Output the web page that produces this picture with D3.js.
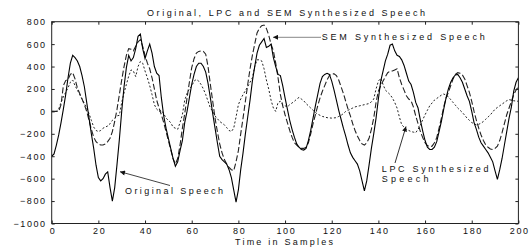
<!DOCTYPE html>
<html>
<head>
<meta charset="utf-8">
<script src="https://cdn.jsdelivr.net/npm/d3@7"></script>
<style>
  html, body { margin: 0; padding: 0; background: #fff; }
  svg { display: block; }
  text { font-family: "Liberation Sans", Arial, Helvetica, sans-serif; fill: #111; }
</style>
</head>
<body>
<svg id="chart" width="532" height="247"></svg>
<script>
// ---- data (sample index = position in array, 0..200) ----
const original = [
  -400,-380,-300,-210,-100,20,150,300,430,500,
  480,450,400,320,220,80,-60,-200,-330,-480,
  -590,-620,-600,-560,-540,-680,-800,-680,-470,-250,
  0,220,390,500,450,480,560,670,690,560,
  470,540,600,520,400,340,320,120,-40,-150,
  -240,-330,-420,-490,-450,-350,-260,-100,0,120,
  240,330,400,430,430,400,350,250,120,-20,
  -150,-280,-400,-430,-450,-470,-520,-590,-700,-810,
  -700,-520,-370,-200,-50,100,270,400,520,590,
  620,650,570,580,600,480,400,330,320,230,
  120,20,-80,-160,-230,-290,-320,-340,-345,-330,
  -260,-170,-60,50,150,250,310,330,340,330,
  270,190,100,10,-70,-150,-220,-300,-370,-410,
  -440,-470,-530,-620,-710,-620,-480,-330,-200,-60,
  110,270,360,450,510,590,600,540,500,490,
  460,410,340,270,240,170,80,30,-80,-175,
  -260,-320,-340,-340,-320,-270,-180,-90,20,120,
  200,260,300,325,330,300,260,200,140,90,
  0,-100,-160,-230,-280,-310,-340,-370,-410,-450,
  -530,-606,-520,-420,-300,-180,-60,40,180,260,
  300
];
const sem = [
  0,0,0,0,60,230,275,285,330,345,
  290,210,160,110,60,0,-80,-160,-230,-270,
  -290,-300,-300,-290,-270,-240,-180,-90,20,150,
  280,400,500,560,555,540,580,620,640,580,
  500,430,380,300,200,100,30,-30,-100,-180,
  -260,-340,-420,-470,-420,-300,-150,-20,120,260,
  390,470,520,535,540,535,510,400,240,90,
  -60,-180,-290,-370,-430,-470,-500,-520,-530,-450,
  -350,-200,-60,90,240,380,500,600,700,740,
  765,770,740,680,600,540,430,300,150,50,
  -30,-100,-170,-230,-280,-300,-320,-330,-330,-320,
  -280,-200,-110,-30,50,120,180,230,280,320,
  335,335,320,280,220,160,90,20,-40,-110,
  -170,-220,-260,-290,-300,-280,-240,-160,-60,80,
  180,230,270,310,345,360,360,370,380,300,
  240,190,140,110,95,40,-40,-110,-180,-234,
  -280,-305,-315,-310,-280,-234,-150,-60,40,120,
  170,230,290,330,345,340,325,290,230,170,
  90,0,-80,-150,-210,-260,-300,-320,-335,-340,
  -330,-310,-260,-190,-110,-30,30,90,150,190,
  220
];
const lpc = [
  0,0,0,20,80,130,170,210,260,280,
  230,190,150,110,70,30,-20,-80,-140,-170,
  -180,-170,-150,-140,-130,-110,-80,-60,-40,-35,
  80,165,240,314,370,360,310,400,445,430,
  360,300,230,150,60,20,0,10,-20,-60,
  -80,-100,-140,-150,-160,-100,-30,100,160,200,
  225,270,285,270,240,200,150,90,30,0,
  -40,-65,-90,-105,-120,-145,-170,-180,-150,-50,
  60,110,150,185,220,260,300,400,460,460,
  450,380,280,200,100,30,0,80,90,60,
  50,40,60,75,90,110,125,110,95,70,
  50,30,10,-10,-25,-35,-45,-50,-56,-58,
  -60,-58,-56,-45,-35,-20,0,10,20,30,
  40,45,50,55,60,65,70,85,110,200,
  270,295,240,190,170,150,120,80,30,-50,
  -120,-140,-160,-170,-180,-185,-190,-160,-120,-75,
  -30,10,50,75,100,115,130,145,155,145,
  130,105,80,55,30,10,-10,-35,-60,-80,
  -100,-110,-120,-115,-105,-90,-70,-50,-30,-5,
  20,35,50,65,80,95,105,100,95,92,
  90
];
const xTicks = [0,20,40,60,80,100,120,140,160,180,200];
const yTicks = [-1000,-800,-600,-400,-200,0,200,400,600,800];
const titleText = "Original, LPC and SEM Synthesized Speech";
const xLabel = "Time in Samples";
const labelSEM = "SEM Synthesized Speech";
const labelOrig = "Original Speech";
const labelLPC = ["LPC Synthesized", "Speech"];

// ---- layout ----
const L = 51.7, R = 518.4, T = 21.7, B = 223.5;
const FS = "9px";
const svg = d3.select("#chart");
const x = d3.scaleLinear().domain([0, 200]).range([L, R]);
const y = d3.scaleLinear().domain([-1000, 800]).range([B, T]);

svg.append("rect").attr("width", 532).attr("height", 247).attr("fill", "#fff");

const defs = svg.append("defs");
defs.append("clipPath").attr("id", "clip").append("rect")
  .attr("x", L).attr("y", T).attr("width", R - L).attr("height", B - T);
defs.append("marker").attr("id", "arrowhead")
  .attr("viewBox", "0 0 10 10").attr("refX", 10).attr("refY", 5)
  .attr("markerWidth", 6).attr("markerHeight", 5).attr("markerUnits", "userSpaceOnUse")
  .attr("orient", "auto")
  .append("path").attr("d", "M0,0 L10,5 L0,10 Z").attr("fill", "#111");

// ---- axes (inward ticks on all sides) ----
const tickFont = g => g.selectAll("text")
  .attr("font-size", FS).attr("letter-spacing", "1.6px").attr("fill", "#111")
  .style("font-family", "'Liberation Sans', Arial, sans-serif");

const gx = svg.append("g").attr("transform", `translate(0,${B})`)
  .call(d3.axisBottom(x).tickValues(xTicks).tickFormat(d3.format("d")).tickSize(-3).tickPadding(4.5));
gx.call(tickFont);
gx.selectAll("text").attr("dx", "0.8px");
const gy = svg.append("g").attr("transform", `translate(${L},0)`)
  .call(d3.axisLeft(y).tickValues(yTicks).tickFormat(d3.format("d")).tickSize(-3).tickPadding(5));
gy.call(tickFont);
const gt = svg.append("g").attr("transform", `translate(0,${T})`)
  .call(d3.axisTop(x).tickValues(xTicks).tickFormat("").tickSize(-3));
const gr = svg.append("g").attr("transform", `translate(${R},0)`)
  .call(d3.axisRight(y).tickValues(yTicks).tickFormat("").tickSize(-3));
[gx, gy, gt, gr].forEach(g => {
  g.select(".domain").remove();
  g.selectAll("line").attr("stroke", "#222").attr("stroke-width", 1);
});

// ---- series ----
const line = d3.line().x((d, i) => x(i)).y(d => y(d));
const plot = svg.append("g").attr("clip-path", "url(#clip)");
plot.append("path").datum(lpc).attr("d", line)
  .attr("fill", "none").attr("stroke", "#222").attr("stroke-width", 1)
  .attr("stroke-dasharray", "2,2");
plot.append("path").datum(sem).attr("d", line)
  .attr("fill", "none").attr("stroke", "#222").attr("stroke-width", 1.1)
  .attr("stroke-dasharray", "6,2.5");
plot.append("path").datum(original).attr("d", line)
  .attr("fill", "none").attr("stroke", "#000").attr("stroke-width", 1.1);

// frame
svg.append("rect").attr("x", L).attr("y", T).attr("width", R - L).attr("height", B - T)
  .attr("fill", "none").attr("stroke", "#222").attr("stroke-width", 1);

// ---- texts ----
const addText = (str, x0, yb, len) => svg.append("text")
  .attr("x", x0).attr("y", yb).attr("font-size", FS)
  .attr("textLength", len).attr("lengthAdjust", "spacing").text(str);

addText(titleText, 147, 15.5, 278);
addText(xLabel, 235, 244.5, 98);

// annotations
addText(labelSEM, 321.7, 40, 163);
svg.append("line").attr("x1", 321).attr("y1", 37.3).attr("x2", 273).attr("y2", 37.3)
  .attr("stroke", "#888").attr("stroke-width", 1).attr("marker-end", "url(#arrowhead)");

addText(labelOrig, 125, 194, 98);
svg.append("line").attr("x1", 170).attr("y1", 185.5).attr("x2", 120).attr("y2", 171.7)
  .attr("stroke", "#444").attr("stroke-width", 1).attr("marker-end", "url(#arrowhead)");

addText(labelLPC[0], 381.7, 172, 106.7);
addText(labelLPC[1], 381.7, 182, 46.7);
svg.append("line").attr("x1", 395).attr("y1", 163).attr("x2", 406).attr("y2", 126.5)
  .attr("stroke", "#333").attr("stroke-width", 1).attr("marker-end", "url(#arrowhead)");
</script>
</body>
</html>
